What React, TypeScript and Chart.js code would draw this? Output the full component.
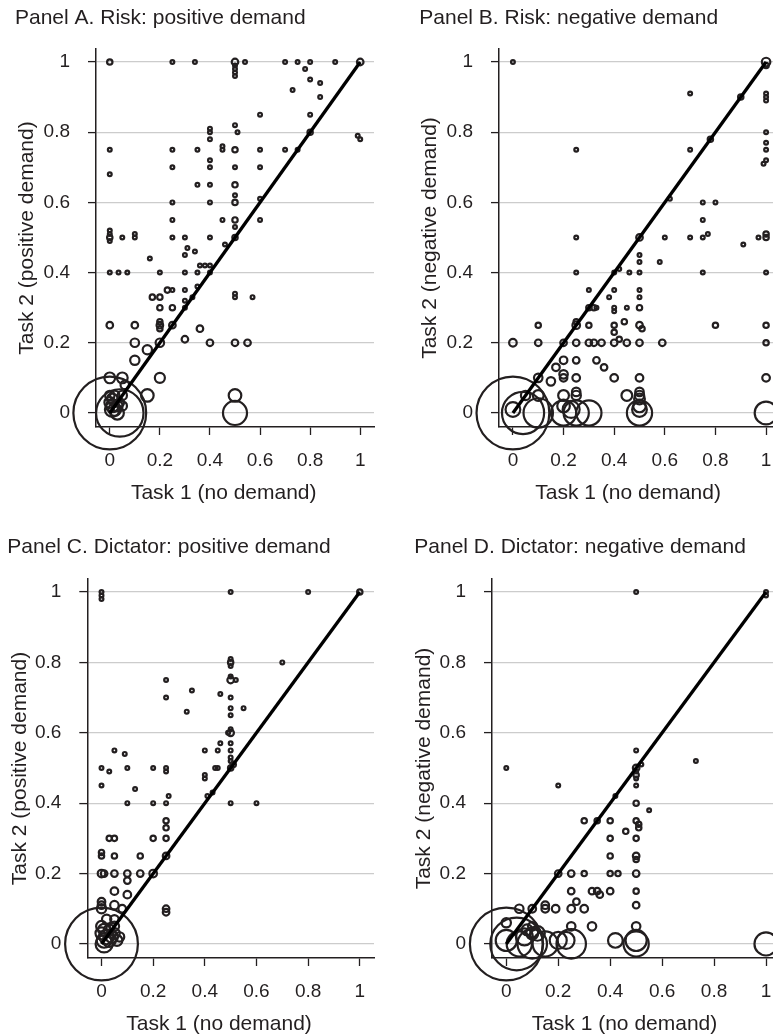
import React, { useEffect, useRef } from "react";
import { Chart, registerables } from "chart.js";

Chart.register(...registerables);

// ---------- data ----------
const TICKS = [0, 0.2, 0.4, 0.6, 0.8, 1];
const TICK_LABELS = ["0", "0.2", "0.4", "0.6", "0.8", "1"];
const X_TITLE = "Task 1 (no demand)";
const DIAGONAL_X = [0, 1];
const DIAGONAL_Y = [0, 1];

// [task1, task2, count]
const RISK_POS: number[][] = [
  [0, 1, 2], [0.25, 1, 1], [0.34, 1, 1], [0.5, 1, 3], [0.5, 0.99, 1], [0.5, 0.98, 1], [0.5, 0.97, 1], [0.5, 0.96, 1],
  [0.54, 1, 1], [0.7, 1, 1], [0.75, 1, 1], [0.8, 1, 1], [0.9, 1, 1], [1, 1, 3],
  [0.78, 0.98, 1], [0.8, 0.95, 1], [0.84, 0.94, 1], [0.73, 0.92, 1], [0.84, 0.9, 1], [0.6, 0.85, 1], [0.8, 0.85, 1],
  [0.4, 0.81, 1], [0.4, 0.8, 1], [0.4, 0.78, 1], [0.5, 0.82, 1], [0.51, 0.8, 1], [0.8, 0.8, 2], [0.99, 0.79, 1], [1, 0.78, 1],
  [0, 0.75, 1], [0.25, 0.75, 1], [0.35, 0.75, 1], [0.45, 0.76, 1], [0.45, 0.75, 1], [0.5, 0.75, 2], [0.6, 0.75, 1], [0.7, 0.75, 1], [0.75, 0.75, 1],
  [0.4, 0.72, 1], [0.4, 0.7, 1], [0.25, 0.7, 1], [0.5, 0.7, 1], [0.6, 0.7, 1], [0, 0.68, 1],
  [0.35, 0.65, 1], [0.4, 0.65, 1], [0.5, 0.65, 2], [0.5, 0.62, 1], [0.6, 0.61, 1], [0.5, 0.6, 2], [0.4, 0.6, 1], [0.25, 0.6, 1],
  [0.25, 0.55, 1], [0.45, 0.55, 1], [0.5, 0.55, 2], [0.6, 0.55, 1], [0.5, 0.53, 1], [0.46, 0.48, 1], [0.5, 0.5, 2],
  [0, 0.52, 1], [0, 0.51, 1], [0, 0.5, 2], [0, 0.49, 1], [0.05, 0.5, 1], [0.1, 0.51, 1], [0.1, 0.5, 1], [0.25, 0.5, 1], [0.3, 0.5, 1], [0.4, 0.5, 1],
  [0.31, 0.47, 1], [0.34, 0.46, 1], [0.3, 0.45, 1], [0.16, 0.44, 1],
  [0, 0.4, 1], [0.035, 0.4, 1], [0.07, 0.4, 1], [0.2, 0.4, 1], [0.3, 0.4, 1], [0.35, 0.4, 1], [0.36, 0.42, 1], [0.38, 0.42, 1], [0.4, 0.42, 1], [0.4, 0.4, 1],
  [0.35, 0.36, 1], [0.17, 0.33, 2], [0.2, 0.33, 2], [0.23, 0.35, 2], [0.25, 0.35, 1], [0.3, 0.35, 1], [0.33, 0.33, 1], [0.3, 0.32, 1],
  [0.2, 0.3, 2], [0.25, 0.3, 2], [0.3, 0.3, 1], [0.5, 0.34, 1], [0.5, 0.33, 1], [0.57, 0.33, 1],
  [0, 0.25, 3], [0.1, 0.25, 3], [0.2, 0.26, 2], [0.2, 0.25, 3], [0.2, 0.24, 2], [0.25, 0.25, 3], [0.36, 0.24, 3], [0.3, 0.21, 3],
  [0.1, 0.2, 5], [0.2, 0.2, 5], [0.4, 0.2, 3], [0.5, 0.2, 3], [0.55, 0.2, 3], [0.15, 0.18, 6], [0.1, 0.15, 6],
  [0, 0.1, 8], [0.05, 0.1, 8], [0.2, 0.1, 7], [0.15, 0.05, 11], [0.5, 0.05, 11], [0.5, 0, 40],
  [0.05, 0.05, 6], [0, 0.05, 6], [0.06, 0.08, 5], [0, 0.03, 8], [0.01, 0.02, 11], [0.02, 0.01, 11], [0.03, 0.02, 8], [0.04, 0.03, 5],
  [0.01, 0.04, 8], [0.02, 0.05, 6], [0.03, 0, 12], [0.01, 0.01, 15], [0.05, 0.02, 6],
  [0.04, 0, 156], [0, 0, 367],
];

const RISK_NEG: number[][] = [
  [0, 1, 1], [0.25, 0.75, 1], [0.25, 0.5, 1], [0.5, 0.5, 3], [0.62, 0.61, 1], [0.6, 0.5, 1],
  [0.7, 0.91, 1], [0.7, 0.75, 1], [0.7, 0.5, 1], [0.75, 0.6, 1], [0.8, 0.6, 1], [0.75, 0.55, 1], [0.75, 0.5, 1], [0.77, 0.51, 1],
  [0.78, 0.78, 2], [0.9, 0.9, 2], [0.91, 0.48, 1], [0.97, 0.5, 1], [1, 0.5, 2], [1, 0.51, 2],
  [1, 1, 5], [1, 0.99, 2], [1, 0.91, 1], [1, 0.9, 1], [1, 0.89, 1], [1, 0.8, 1], [1, 0.77, 1], [1, 0.75, 1], [1, 0.72, 1], [0.99, 0.71, 1],
  [0.5, 0.45, 1], [0.5, 0.43, 1], [0.5, 0.4, 1], [0.58, 0.43, 1], [0.25, 0.4, 1], [0.4, 0.4, 1], [0.42, 0.41, 1], [0.46, 0.4, 1], [0.75, 0.4, 1], [1, 0.4, 1],
  [0.3, 0.35, 1], [0.4, 0.35, 1], [0.5, 0.35, 1], [0.5, 0.33, 1], [0.38, 0.33, 1],
  [0.3, 0.3, 2], [0.32, 0.3, 2], [0.33, 0.3, 1], [0.4, 0.3, 1], [0.4, 0.29, 1], [0.45, 0.3, 1], [0.5, 0.3, 2],
  [0.1, 0.25, 2], [0.25, 0.25, 4], [0.25, 0.26, 2], [0.3, 0.25, 2], [0.4, 0.25, 2], [0.44, 0.26, 2], [0.5, 0.25, 3], [0.51, 0.24, 2], [0.8, 0.25, 2], [1, 0.25, 2],
  [0.4, 0.23, 2], [0.42, 0.21, 2],
  [0, 0.2, 4], [0.1, 0.2, 3], [0.2, 0.2, 3], [0.25, 0.2, 3], [0.3, 0.2, 3], [0.32, 0.2, 3], [0.35, 0.2, 3], [0.4, 0.2, 3], [0.45, 0.2, 3], [0.5, 0.2, 3], [0.59, 0.2, 3], [1, 0.2, 2],
  [0.2, 0.15, 4], [0.25, 0.15, 3], [0.33, 0.15, 3], [0.36, 0.13, 3], [0.17, 0.13, 4], [0.2, 0.11, 5],
  [0.1, 0.1, 5], [0.15, 0.09, 5], [0.2, 0.1, 4], [0.25, 0.1, 4], [0.4, 0.1, 4], [0.5, 0.1, 4], [1, 0.1, 4],
  [0.05, 0.05, 6], [0.1, 0.05, 8], [0.2, 0.05, 8], [0.25, 0.06, 5], [0.25, 0.05, 6], [0.45, 0.05, 8],
  [0.5, 0.06, 5], [0.5, 0.05, 6], [0.5, 0.04, 8], [0.5, 0.02, 11], [0.5, 0.01, 15], [0.5, 0, 44],
  [0.2, 0.02, 11], [0, 0.01, 15], [0.23, 0.01, 20],
  [0.1, 0, 60], [0.2, 0, 44], [0.25, 0, 44], [0.3, 0, 44], [1, 0, 36],
  [0.04, 0, 123], [0, 0, 367],
];

const DICT_POS: number[][] = [
  [0, 1, 1], [0, 0.99, 1], [0, 0.98, 1], [0.5, 1, 1], [0.8, 1, 1], [1, 1, 2],
  [0.5, 0.81, 1], [0.5, 0.8, 2], [0.5, 0.79, 1], [0.7, 0.8, 1], [0.5, 0.76, 1], [0.5, 0.75, 3], [0.52, 0.75, 1],
  [0.25, 0.75, 1], [0.25, 0.7, 1], [0.35, 0.72, 1], [0.46, 0.71, 1], [0.5, 0.7, 1], [0.5, 0.67, 1], [0.55, 0.67, 1], [0.5, 0.65, 1], [0.33, 0.66, 1],
  [0.5, 0.61, 1], [0.5, 0.6, 3], [0.49, 0.6, 1], [0.5, 0.57, 1], [0.46, 0.57, 1], [0.45, 0.55, 1], [0.5, 0.55, 1], [0.4, 0.55, 1],
  [0.5, 0.53, 1], [0.5, 0.52, 1], [0.5, 0.5, 2], [0.51, 0.51, 2], [0.44, 0.5, 1], [0.45, 0.5, 1],
  [0.05, 0.55, 1], [0.09, 0.54, 1], [0, 0.5, 1], [0.03, 0.49, 1], [0.1, 0.5, 1], [0.2, 0.5, 1], [0.25, 0.5, 1], [0.25, 0.49, 1],
  [0.4, 0.48, 1], [0.4, 0.47, 1], [0, 0.45, 1], [0.13, 0.44, 1],
  [0.1, 0.4, 1], [0.2, 0.4, 1], [0.25, 0.4, 1], [0.26, 0.42, 1], [0.41, 0.42, 1], [0.43, 0.43, 1], [0.5, 0.4, 1], [0.6, 0.4, 1],
  [0.25, 0.35, 2], [0.25, 0.33, 2], [0.25, 0.3, 2], [0.2, 0.3, 2], [0.03, 0.3, 2], [0.05, 0.3, 2],
  [0, 0.26, 2], [0, 0.25, 2], [0.05, 0.25, 2], [0.15, 0.25, 2], [0.25, 0.25, 3],
  [0, 0.2, 4], [0.01, 0.2, 3], [0.05, 0.2, 3], [0.1, 0.2, 3], [0.15, 0.2, 3], [0.2, 0.2, 4],
  [0.1, 0.18, 3], [0.05, 0.15, 4], [0.1, 0.14, 4], [0, 0.12, 4], [0, 0.11, 4], [0.05, 0.11, 5], [0.08, 0.1, 4], [0.25, 0.1, 3], [0.25, 0.09, 3],
  [0, 0.1, 6], [0.05, 0.07, 5], [0, 0.05, 8], [0.05, 0.05, 6], [0, 0.03, 10], [0.02, 0.02, 15], [0.04, 0.02, 10], [0.06, 0.01, 8],
  [0.01, 0.01, 15], [0.03, 0.01, 12], [0.01, 0.04, 10], [0.03, 0.04, 8], [0.02, 0.07, 6], [0.05, 0.03, 8], [0.07, 0.02, 6],
  [0.01, 0, 20], [0, 0, 367],
];

const DICT_NEG: number[][] = [
  [0, 0.5, 1], [0.5, 1, 1], [1, 1, 1], [1, 0.99, 1], [0.5, 0.55, 1], [0.5, 0.5, 3], [0.52, 0.51, 1], [0.73, 0.52, 1],
  [0.5, 0.49, 1], [0.5, 0.48, 2], [0.5, 0.47, 1], [0.5, 0.45, 1], [0.2, 0.45, 1], [0.42, 0.42, 1], [0.55, 0.38, 1], [0.5, 0.4, 2],
  [0.3, 0.35, 2], [0.35, 0.35, 2], [0.4, 0.35, 2], [0.46, 0.32, 2], [0.5, 0.35, 2], [0.51, 0.34, 2], [0.51, 0.33, 2],
  [0.4, 0.3, 2], [0.5, 0.3, 2], [0.4, 0.25, 2], [0.5, 0.25, 3], [0.5, 0.24, 2],
  [0.2, 0.2, 3], [0.25, 0.2, 3], [0.3, 0.2, 2], [0.4, 0.2, 2], [0.43, 0.2, 2], [0.5, 0.2, 3],
  [0.25, 0.15, 3], [0.33, 0.15, 3], [0.35, 0.15, 3], [0.36, 0.14, 3], [0.4, 0.15, 3], [0.5, 0.15, 2],
  [0.27, 0.12, 3], [0.25, 0.1, 4], [0.3, 0.1, 4], [0.5, 0.11, 3],
  [0.05, 0.1, 5], [0.1, 0.1, 4], [0.15, 0.11, 4], [0.15, 0.1, 4], [0.19, 0.1, 4],
  [0, 0.06, 6], [0.1, 0.05, 5], [0.25, 0.05, 5], [0.33, 0.05, 5], [0.5, 0.05, 5],
  [0.42, 0.01, 15], [0.5, 0.01, 31], [0.5, 0, 44], [0.25, 0, 60], [0.2, 0.01, 20], [0.23, 0.01, 20],
  [0.15, 0, 44], [0.1, 0, 60], [0.07, 0.02, 20], [0.12, 0.03, 15], [0.05, 0, 44], [0, 0.01, 31],
  [0.08, 0.04, 8], [0.1, 0.03, 10],
  [1, 0, 37], [0.04, 0, 193], [0, 0, 367],
];

// ---------- styling ----------
const FONT = '"Liberation Sans", Arial, Helvetica, sans-serif';
const INK = "#231f20";
const GRID = "#cccccc";

type Panel = {
  title: string;
  yTitle: string;
  pts: number[][];
  left: number;
  top: number;
  w: number;
  h: number;
  pad: { left: number; right: number };
  yAxisW: number;
  xAxisH: number;
  titlePadTop: number;
  titlePadBottom: number;
  yTitlePad: number;
};

const PANELS: Panel[] = [
  { title: "Panel A. Risk: positive demand", yTitle: "Task 2 (positive demand)", pts: RISK_POS,
    left: 0, top: 0, w: 386, h: 517, pad: { left: 15, right: 12 }, yAxisW: 81, xAxisH: 90,
    titlePadTop: 6, titlePadBottom: 17.8, yTitlePad: 0 },
  { title: "Panel B. Risk: negative demand", yTitle: "Task 2 (negative demand)", pts: RISK_NEG,
    left: 386, top: 0, w: 420, h: 517, pad: { left: 33.3, right: 26 }, yAxisW: 79.7, xAxisH: 90,
    titlePadTop: 6, titlePadBottom: 17.8, yTitlePad: -2 },
  { title: "Panel C. Dictator: positive demand", yTitle: "Task 2 (positive demand)", pts: DICT_POS,
    left: 0, top: 517, w: 386, h: 518, pad: { left: 7.3, right: 12 }, yAxisW: 80, xAxisH: 77,
    titlePadTop: 17.9, titlePadBottom: 18.9, yTitlePad: 0 },
  { title: "Panel D. Dictator: negative demand", yTitle: "Task 2 (negative demand)", pts: DICT_NEG,
    left: 386, top: 517, w: 420, h: 518, pad: { left: 28.3, right: 25.7 }, yAxisW: 77.7, xAxisH: 77,
    titlePadTop: 17.9, titlePadBottom: 18.9, yTitlePad: -3 },
];

const radiusFor = (n: number) => 1.9 * Math.sqrt(n);

const xTitlePlugin = {
  id: "xTitleText",
  afterDraw(chart: any, _args: any, opts: any) {
    const { ctx, chartArea, scales } = chart;
    ctx.save();
    ctx.font = `21px ${FONT}`;
    ctx.fillStyle = INK;
    ctx.textAlign = "center";
    ctx.textBaseline = "middle";
    ctx.fillText(opts.text, scales.x.getPixelForValue(opts.center), chartArea.bottom + opts.offset);
    ctx.restore();
  },
};

function tickLabel(v: number) {
  const i = TICKS.findIndex((t) => Math.abs(t - v) < 1e-9);
  return i >= 0 ? TICK_LABELS[i] : "";
}

function PanelChart({ p }: { p: Panel }) {
  const ref = useRef<HTMLCanvasElement | null>(null);
  useEffect(() => {
    if (!ref.current) return;
    const chart = new Chart(ref.current, {
      type: "bubble",
      data: {
        datasets: [
          {
            type: "line",
            data: DIAGONAL_X.map((x, i) => ({ x, y: DIAGONAL_Y[i] })),
            borderColor: "#000000",
            borderWidth: 3.3,
            pointRadius: 0,
            fill: false,
            clip: false,
          } as any,
          {
            type: "bubble",
            data: p.pts.map(([x, y, n]) => ({ x, y, r: radiusFor(n) })),
            backgroundColor: "rgba(0,0,0,0)",
            borderColor: INK,
            borderWidth: 2.2,
            clip: false,
          } as any,
        ],
      },
      options: {
        responsive: false,
        animation: false,
        events: [],
        layout: { autoPadding: false, padding: { left: p.pad.left, right: p.pad.right, top: 0, bottom: 0 } },
        plugins: {
          legend: { display: false },
          tooltip: { enabled: false },
          title: {
            display: true,
            text: p.title,
            align: "start",
            color: INK,
            font: { family: FONT, size: 21, weight: "normal" },
            padding: { top: p.titlePadTop, bottom: p.titlePadBottom },
          },
          xTitleText: { text: X_TITLE, center: 0.455, offset: 66 },
        } as any,
        scales: {
          x: {
            type: "linear",
            min: -0.055,
            max: 1.055,
            afterBuildTicks: (s: any) => { s.ticks = TICKS.map((v) => ({ value: v })); },
            afterFit: (s: any) => {
              s.height = p.xAxisH;
              s.paddingLeft = 0;
              s.paddingRight = 0;
            },
            ticks: {
              callback: (v: any) => tickLabel(Number(v)),
              color: INK,
              font: { family: FONT, size: 19 },
              padding: 14,
              maxRotation: 0,
              autoSkip: false,
            },
            grid: {
              display: true,
              drawOnChartArea: false,
              drawTicks: true,
              tickLength: 8,
              tickColor: INK,
              tickWidth: 1.3,
            },
            border: { display: true, color: INK, width: 1.5 },
          },
          y: {
            type: "linear",
            min: -0.04,
            max: 1.037,
            afterBuildTicks: (s: any) => { s.ticks = TICKS.map((v) => ({ value: v })); },
            afterFit: (s: any) => {
              s.width = p.yAxisW;
              s.paddingTop = 0;
              s.paddingBottom = 0;
            },
            ticks: {
              callback: (v: any) => tickLabel(Number(v)),
              color: INK,
              font: { family: FONT, size: 19 },
              padding: 18,
              autoSkip: false,
            },
            grid: {
              display: true,
              drawOnChartArea: true,
              color: GRID,
              lineWidth: 1.2,
              drawTicks: true,
              tickLength: 8,
              tickColor: INK,
              tickWidth: 1.3,
            },
            border: { display: true, color: INK, width: 1.5 },
            title: {
              display: true,
              text: p.yTitle,
              color: INK,
              font: { family: FONT, size: 21, weight: "normal" },
              padding: { top: p.yTitlePad, bottom: 0 },
            },
          },
        },
      } as any,
      plugins: [xTitlePlugin as any],
    });
    return () => chart.destroy();
  }, [p]);
  return (
    <canvas
      ref={ref}
      width={p.w}
      height={p.h}
      style={{ position: "absolute", left: p.left, top: p.top, width: p.w, height: p.h }}
    />
  );
}

export default function App() {
  return (
    <div
      style={{
        position: "absolute",
        left: 0,
        top: 0,
        width: 773,
        height: 1035,
        overflow: "hidden",
        background: "#ffffff",
      }}
    >
      {PANELS.map((p) => (
        <PanelChart key={p.title} p={p} />
      ))}
    </div>
  );
}
